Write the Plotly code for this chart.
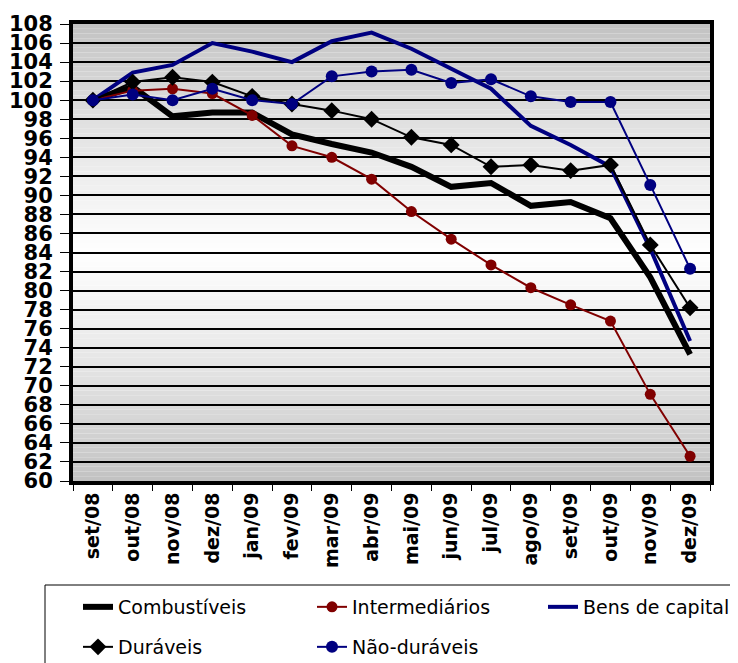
import plotly.graph_objects as go

months = ["set/08", "out/08", "nov/08", "dez/08", "jan/09", "fev/09", "mar/09", "abr/09",
          "mai/09", "jun/09", "jul/09", "ago/09", "set/09", "out/09", "nov/09", "dez/09"]

combustiveis = [100.0, 101.4, 98.3, 98.7, 98.7, 96.4, 95.4, 94.5, 93.0, 90.9, 91.3, 88.9, 89.3, 87.6, 81.4, 73.3]
intermediarios = [100.0, 101.0, 101.2, 100.7, 98.4, 95.2, 94.0, 91.7, 88.3, 85.4, 82.7, 80.3, 78.5, 76.8, 69.1, 62.6]
bens_capital = [100.0, 102.9, 103.7, 106.0, 105.1, 104.0, 106.2, 107.1, 105.4, 103.3, 101.2, 97.3, 95.3, 93.0, 84.4, 74.7]
duraveis = [100.0, 101.9, 102.4, 101.9, 100.4, 99.6, 98.9, 98.0, 96.1, 95.3, 93.0, 93.2, 92.6, 93.2, 84.8, 78.2]
nao_duraveis = [100.0, 100.6, 100.0, 101.2, 100.0, 99.6, 102.5, 103.0, 103.2, 101.8, 102.2, 100.4, 99.8, 99.8, 91.1, 82.3]

W, H = 738, 663
OFF = 8  # page body margin offset
# target plot area in window pixels: x 73..710, y 24..481
ML = 73 - OFF
MT = 24 - OFF
MR = W - (710 - OFF)
MB = H - (481 - OFF)
PW, PH = W - ML - MR, H - MT - MB

BLACK = "#000000"
RED = "#800000"
NAVY = "#000080"

fig = go.Figure()
fig.add_trace(go.Scatter(x=months, y=combustiveis, name="Combustíveis", mode="lines",
                         line=dict(color=BLACK, width=6), legend="legend"))
fig.add_trace(go.Scatter(x=months, y=intermediarios, name="Intermediários", mode="lines+markers",
                         line=dict(color=RED, width=2), marker=dict(symbol="circle", size=11, color=RED),
                         legend="legend2"))
fig.add_trace(go.Scatter(x=months, y=bens_capital, name="Bens de capital", mode="lines",
                         line=dict(color=NAVY, width=4), legend="legend3"))
fig.add_trace(go.Scatter(x=months, y=duraveis, name="Duráveis", mode="lines+markers",
                         line=dict(color=BLACK, width=2), marker=dict(symbol="diamond", size=13, color=BLACK),
                         legend="legend4"))
fig.add_trace(go.Scatter(x=months, y=nao_duraveis, name="Não-duráveis", mode="lines+markers",
                         line=dict(color=NAVY, width=2), marker=dict(symbol="circle", size=12, color=NAVY),
                         legend="legend5"))

# gradient background (gray -> white -> gray)
shapes = []
n = 96
g0 = 192
for i in range(n):
    f = (i + 0.5) / n
    t = 1 - abs(2 * f - 1)
    t = t ** 0.8
    c = int(round(g0 + (255 - g0) * t))
    shapes.append(dict(type="rect", xref="x domain", yref="y domain", x0=0, x1=1,
                       y0=i / n, y1=(i + 1) / n, fillcolor=f"rgb({c},{c},{c})",
                       line=dict(width=0), layer="below"))

def px_to_paper_x(px):
    return (px - OFF - ML) / PW

def px_to_paper_y(py):
    return (H - MB - (py - OFF)) / PH

# legend frame
shapes.append(dict(type="rect", xref="paper", yref="paper",
                   x0=px_to_paper_x(45), x1=px_to_paper_x(770),
                   y0=px_to_paper_y(700), y1=px_to_paper_y(585),
                   line=dict(color=BLACK, width=1), fillcolor="rgba(0,0,0,0)", layer="above"))

legend_font = dict(family="DejaVu Sans", size=19, color=BLACK)

def leg(text_x, row_y):
    return dict(xref="container", yref="container",
                x=(text_x - 40 - OFF) / W, y=1 - (row_y - 19 - OFF) / H,
                xanchor="left", yanchor="top", bgcolor="rgba(0,0,0,0)", borderwidth=0,
                font=legend_font, orientation="h")

fig.update_layout(
    width=W, height=H,
    margin=dict(l=ML, r=MR, t=MT, b=MB, autoexpand=False),
    paper_bgcolor="white", plot_bgcolor="white",
    shapes=shapes,
    legend=leg(118, 607),
    legend2=leg(352, 607),
    legend3=leg(583, 607),
    legend4=leg(118, 647),
    legend5=leg(352, 647),
    showlegend=True,
    xaxis=dict(type="category", categoryorder="array", categoryarray=months,
               range=[-0.5, len(months) - 0.5],
               tickangle=-90, tickson="boundaries", ticks="outside", ticklen=6, tickwidth=1,
               tickcolor=BLACK, showline=True, linewidth=4, linecolor=BLACK, mirror=True,
               showgrid=False, zeroline=False, ticklabelstandoff=0,
               tickfont=dict(family="DejaVu Sans", size=19, color=BLACK, weight="bold")),
    yaxis=dict(range=[60, 108], tick0=60, dtick=2, showgrid=True, gridcolor=BLACK, gridwidth=2,
               ticks="outside", ticklen=9, tickwidth=1, tickcolor=BLACK,
               showline=True, linewidth=4, linecolor=BLACK, mirror=True, zeroline=False,
               ticklabelstandoff=3,
               tickfont=dict(family="DejaVu Sans", size=21, color=BLACK, weight="bold")),
)

fig.write_html("out.html")
